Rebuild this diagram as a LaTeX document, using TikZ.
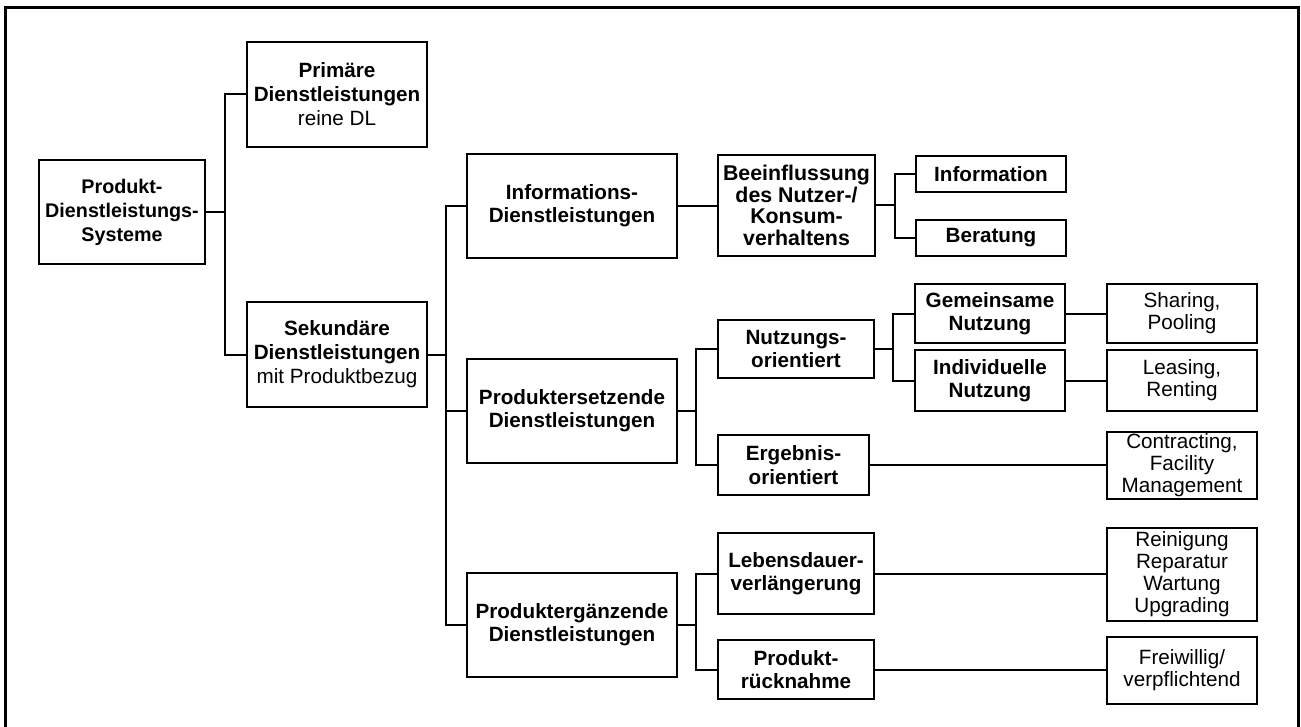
\documentclass[tikz,border=0pt]{standalone}
\usepackage{fontspec}
\setmainfont{Liberation Sans}
\begin{document}
\begin{tikzpicture}[x=0.75pt, y=-0.75pt,
  bx/.style={draw, line width=1.7pt, inner sep=0pt, outer sep=0pt, align=center,
    font=\fontsize{15.5}{17.5}\selectfont\bfseries},
  lt/.style={bx, font=\fontsize{15.5}{16.5}\selectfont},
  sz/.style 2 args={minimum width=#1*0.75pt, minimum height=#2*0.75pt},
  link/.style={line width=1.5pt}]
\useasboundingbox (0,0) rectangle (1301,727);
% open frame round the chart
\draw[line width=2.5pt] (5.7,727) -- (5.7,7.5) -- (1298.5,7.5) -- (1298.5,727);

% column 1
\node[bx, sz={166}{104}, font=\fontsize{14.8}{18}\selectfont\bfseries] (pds) at (122,212) {Produkt-\\Dienstleistungs-\\Systeme};
% column 2
\node[bx, sz={180}{105}, font=\fontsize{15.5}{18}\selectfont\bfseries] (prim) at (337,94.5) {Primäre\\Dienstleistungen\\{\mdseries reine DL}};
\node[bx, sz={180}{105}, font=\fontsize{15.5}{18}\selectfont\bfseries] (sek) at (337,354.5) {Sekundäre\\Dienstleistungen\\{\mdseries mit Produktbezug}};
% column 3
\node[bx, sz={210}{104}] (info) at (572,206) {Informations-\\Dienstleistungen};
\node[bx, sz={210}{104}] (ersetz) at (572,411) {Produktersetzende\\Dienstleistungen};
\node[bx, sz={210}{104}] (ergaenz) at (572,625) {Produktergänzende\\Dienstleistungen};
% column 4
\node[bx, sz={157}{101}, font=\fontsize{16}{16.3}\selectfont\bfseries] (beein) at (796.5,205.5) {Beeinflussung\\des Nutzer-/\\Konsum-\\verhaltens};
\node[bx, sz={156}{58}] (nutz) at (796,349) {Nutzungs-\\orientiert};
\node[bx, sz={151}{60}] (ergeb) at (793.5,465) {Ergebnis-\\orientiert};
\node[bx, sz={156}{81}] (leben) at (796,573.5) {Lebensdauer-\\verlängerung};
\node[bx, sz={156}{59}] (rueck) at (796,669.5) {Produkt-\\rücknahme};
% column 5
\node[bx, sz={150}{36}] (information) at (991,174) {Information};
\node[bx, sz={150}{36}] (beratung) at (991,238) {Beratung};
\node[bx, sz={150}{59}] (gemein) at (990,313.5) {Gemeinsame\\Nutzung};
\node[bx, sz={150}{61}] (indiv) at (990,380.5) {Individuelle\\Nutzung};
% column 6
\node[lt, sz={150}{59}] (sharing) at (1182,313.5) {Sharing,\\Pooling};
\node[lt, sz={150}{61}] (leasing) at (1182,380.5) {Leasing,\\Renting};
\node[lt, sz={150}{67}] (contract) at (1182,465.5) {Contracting,\\Facility\\Management};
\node[lt, sz={150}{93}] (reinig) at (1182,574.5) {Reinigung\\Reparatur\\Wartung\\Upgrading};
\node[lt, sz={150}{67}] (freiw) at (1182,670.5) {Freiwillig/\\verpflichtend};

% branching connectors
\draw[link] (pds.east) -- ++(20,0) |- (prim.west);
\draw[link] (pds.east) -- ++(20,0) |- (sek.west);
\draw[link] (sek.east) -- ++(19,0) |- (info.west);
\draw[link] (sek.east) -- ++(19,0) |- (ersetz.west);
\draw[link] (sek.east) -- ++(19,0) |- (ergaenz.west);
\draw[link] (beein.east) -- ++(20,0) |- (information.west);
\draw[link] (beein.east) -- ++(20,0) |- (beratung.west);
\draw[link] (ersetz.east) -- ++(19,0) |- (nutz.west);
\draw[link] (ersetz.east) -- ++(19,0) |- (ergeb.west);
\draw[link] (nutz.east) -- ++(19,0) |- (gemein.west);
\draw[link] (nutz.east) -- ++(19,0) |- (indiv.west);
\draw[link] (ergaenz.east) -- ++(19,0) |- (leben.west);
\draw[link] (ergaenz.east) -- ++(19,0) |- (rueck.west);

% straight connectors
\draw[link] (info.east) -- (info.east -| beein.west);
\draw[link] (gemein.east) -- (gemein.east -| sharing.west);
\draw[link] (indiv.east) -- (indiv.east -| leasing.west);
\draw[link] (ergeb.east) -- (ergeb.east -| contract.west);
\draw[link] (leben.east) -- (leben.east -| reinig.west);
\draw[link] (rueck.east) -- (rueck.east -| freiw.west);
\end{tikzpicture}
\end{document}
